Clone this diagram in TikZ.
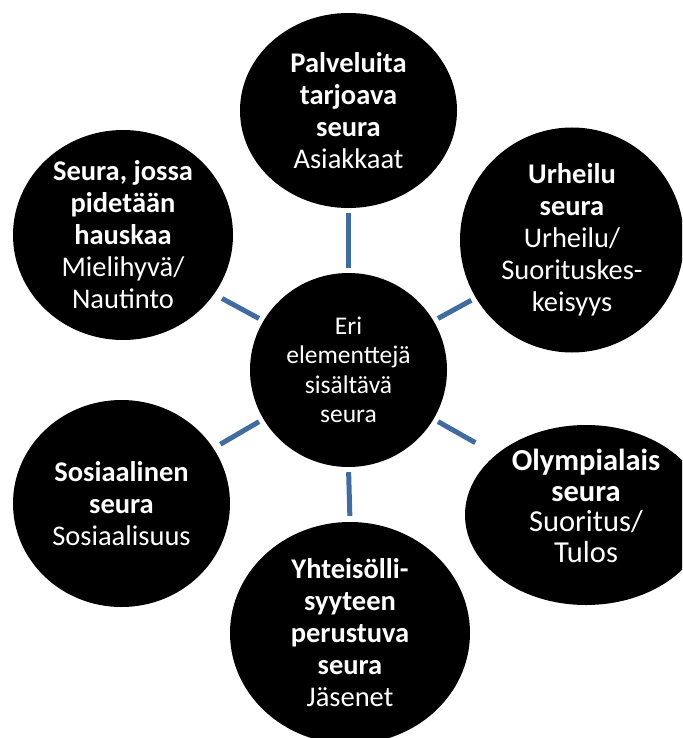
\documentclass[tikz,border=0pt]{standalone}
\usepackage{fontspec}
\setmainfont{Carlito}
\usetikzlibrary{shapes.geometric}
\definecolor{linkblue}{RGB}{64,108,160}

\begin{document}
\begin{tikzpicture}[x=1pt,y=-1pt,
  club/.style={ellipse,fill=black,text=white,inner sep=-30pt,align=center,
    font=\fontsize{28.5}{32}\selectfont},
  link/.style={linkblue,line width=5pt}]
\clip (0,0) rectangle (682,738);

\coordinate (MidC) at (348.5,370);
\coordinate (ServC) at (348.5,110.5);
\coordinate (SportC) at (572,240);
\coordinate (OlymC) at (586,515);
\coordinate (CommC) at (350,633);
\coordinate (SocC) at (121.5,503.5);
\coordinate (FunC) at (123,235);

% the clubs
\node[club,minimum width=197pt,minimum height=194pt,
  font=\fontsize{25.5}{29.5}\selectfont] (mid) at (MidC)
  {Eri\\elementtejä\\sisältävä\\seura};
\node[club,minimum width=217pt,minimum height=195pt] (serv) at (ServC)
  {\textbf{Palveluita}\\\textbf{tarjoava}\\\textbf{seura}\\Asiakkaat};
\node[club,minimum width=224pt,minimum height=225pt] (sport) at (SportC)
  {\textbf{Urheilu}\\\textbf{seura}\\Urheilu/\\Suorituskes-\\keisyys};
\node[club,minimum width=242pt,minimum height=180pt,text depth=18pt,
  font=\fontsize{30.5}{30.5}\selectfont] (olym) at (OlymC)
  {\textbf{Olympialais}\\\textbf{seura}\\Suoritus/\\Tulos};
\node[club,minimum width=240pt,minimum height=222pt] (comm) at (CommC)
  {\textbf{Yhteisölli-}\\\textbf{syyteen}\\\textbf{perustuva}\\\textbf{seura}\\Jäsenet};
\node[club,minimum width=217pt,minimum height=207pt] (soc) at (SocC)
  {\textbf{Sosiaalinen}\\\textbf{seura}\\Sosiaalisuus};
\node[club,minimum width=220pt,minimum height=210pt] (fun) at (FunC)
  {\textbf{Seura, jossa}\\\textbf{pidetään}\\\textbf{hauskaa}\\Mielihyvä/\\Nautinto};

% links
\draw[link,shorten <=5pt,shorten >=5pt] (mid.90) -- (serv.270);
\draw[link,shorten <=5pt,shorten >=5pt] (mid.30) -- (sport.211);
\draw[link,shorten <=5pt,shorten >=24pt] (mid.-30) -- (olym.146);
\draw[link,shorten <=5pt,shorten >=6pt] (mid.270) -- (comm.90);
\draw[link,shorten <=5pt,shorten >=8pt] (mid.210) -- (soc.31);
\draw[link,shorten <=5pt,shorten >=9pt] (mid.150) -- (fun.-33);
\end{tikzpicture}
\end{document}
